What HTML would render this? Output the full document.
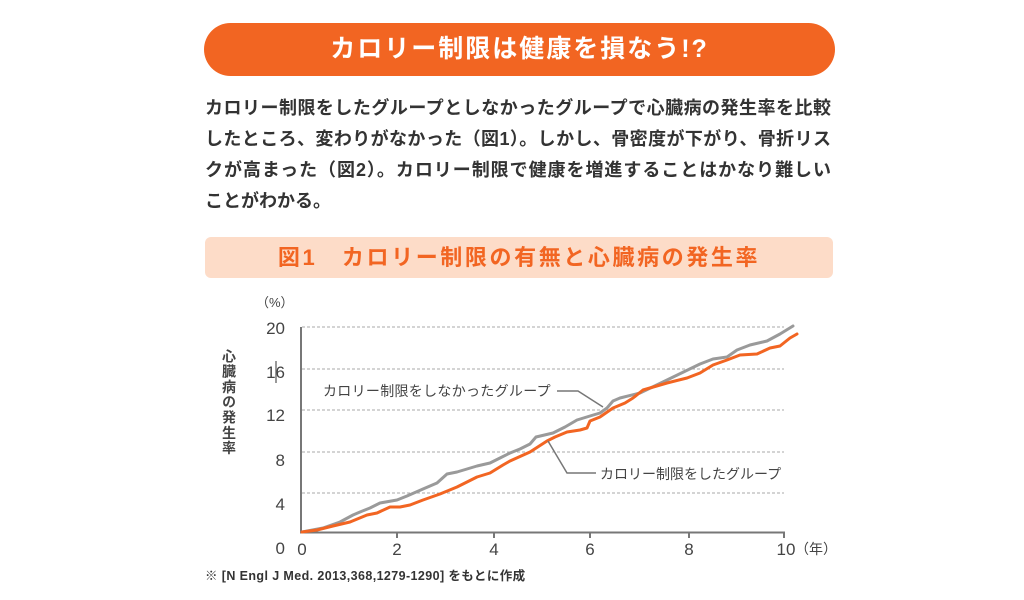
<!DOCTYPE html>
<html><head><meta charset="utf-8">
<style>
html,body{margin:0;padding:0;background:#fff;}
body{width:1024px;height:600px;position:relative;overflow:hidden;font-family:"Liberation Sans","Noto Sans CJK JP",sans-serif;}
.pill{position:absolute;left:204px;top:23px;width:631px;height:53px;border-radius:27px;background:#f26522;color:#fff;font-weight:bold;font-size:25px;letter-spacing:2px;text-align:center;line-height:53px;}
.body{position:absolute;left:205px;top:93px;width:626px;color:#333;font-weight:bold;font-size:18px;line-height:31px;}
.body span{display:block;white-space:nowrap;text-align:justify;text-align-last:justify;}
.body span.last{text-align-last:left;}
.cap{position:absolute;left:205px;top:237px;width:628px;height:41px;border-radius:6px;background:#fddcc8;color:#f26522;font-weight:bold;font-size:22px;letter-spacing:2.6px;line-height:41px;text-align:center;}
svg{position:absolute;left:0;top:0;}
</style></head><body>
<div class="pill">カロリー制限は健康を損なう!?</div>
<div class="body">
<span>カロリー制限をしたグループとしなかったグループで心臓病の発生率を比較</span>
<span>したところ、変わりがなかった（図1）。しかし、骨密度が下がり、骨折リス</span>
<span>クが高まった（図2）。カロリー制限で健康を増進することはかなり難しい</span>
<span class="last">ことがわかる。</span>
</div>
<div class="cap">図1　カロリー制限の有無と心臓病の発生率</div>
<svg width="1024" height="600" viewBox="0 0 1024 600">
<g stroke="#aaa" stroke-width="1" stroke-dasharray="3,2">
<line x1="302" y1="327" x2="784" y2="327"/>
<line x1="302" y1="369" x2="784" y2="369"/>
<line x1="302" y1="410" x2="784" y2="410"/>
<line x1="302" y1="452" x2="784" y2="452"/>
<line x1="302" y1="493" x2="784" y2="493"/>
</g>
<g stroke="#777" stroke-width="2" fill="none">
<polyline points="301,327 301,532.5 784,532.5 784,538"/>
<line x1="397" y1="532" x2="397" y2="538"/>
<line x1="494" y1="532" x2="494" y2="538"/>
<line x1="590" y1="532" x2="590" y2="538"/>
<line x1="689" y1="532" x2="689" y2="538"/>
</g>
<polyline fill="none" stroke="#9a9a9a" stroke-width="3" stroke-linejoin="round" stroke-linecap="round"
points="302,532 323,528 340,522 353,515 360,512 370,508 380,503 397,500 407,496 423,489 437,483 447,474 457,472 477,466 490,463 500,458 510,453 520,449 530,444 536,437 553,433 565,427 577,420 590,416 600,413 607,408 613,401 620,398 640,393 667,380 700,364 713,359 727,357 737,350 750,345 767,341 780,334 793,326"/>
<polyline fill="none" stroke="#f26522" stroke-width="3" stroke-linejoin="round" stroke-linecap="round"
points="302,532 317,530 333,526 350,522 367,515 377,513 390,507 400,507 410,505 423,500 440,494 457,487 477,477 490,473 503,465 510,461 530,452 547,441 555,437 567,432 580,430 587,428 590,421 600,417 613,408 625,403 633,398 643,390 667,383 687,378 700,373 713,365 727,360 740,355 757,354 770,348 780,346 790,338 797,334"/>
<g stroke="#777" stroke-width="1.5" fill="none">
<polyline points="557,391 578,391 603,407"/>
<polyline points="596,473 567,473 548,441"/>
<line x1="276" y1="361" x2="276" y2="383"/>
</g>
<g font-family="Liberation Sans, sans-serif" font-size="17" fill="#444" text-anchor="end">
<text x="285" y="334">20</text>
<text x="285" y="378">16</text>
<text x="285" y="421">12</text>
<text x="285" y="466">8</text>
<text x="285" y="510">4</text>
<text x="285" y="554">0</text>
</g>
<g font-family="Liberation Sans, sans-serif" font-size="17" fill="#444" text-anchor="middle">
<text x="302" y="555">0</text>
<text x="397" y="555">2</text>
<text x="494" y="555">4</text>
<text x="590" y="555">6</text>
<text x="689" y="555">8</text>
<text x="786" y="555">10</text>
</g>
<text x="795" y="554" font-family="Liberation Sans, Noto Sans CJK JP, sans-serif" font-size="14" fill="#444">（年）</text>
<text x="256" y="307" font-family="Liberation Sans, Noto Sans CJK JP, sans-serif" font-size="13" fill="#444">（%）</text>
<text x="229" y="349" font-family="Liberation Sans, Noto Sans CJK JP, sans-serif" font-size="14" font-weight="bold" fill="#444" style="writing-mode:vertical-rl;letter-spacing:1.3px">心臓病の発生率</text>
<text x="323" y="396" font-family="Liberation Sans, Noto Sans CJK JP, sans-serif" font-size="14" fill="#444" letter-spacing="0.3">カロリー制限をしなかったグループ</text>
<text x="600" y="479" font-family="Liberation Sans, Noto Sans CJK JP, sans-serif" font-size="14" fill="#444">カロリー制限をしたグループ</text>
<text x="205" y="580" font-family="Liberation Sans, Noto Sans CJK JP, sans-serif" font-size="12.5" font-weight="bold" fill="#333" letter-spacing="0.4">※ [N Engl J Med. 2013,368,1279-1290] をもとに作成</text>
</svg>
</body></html>
